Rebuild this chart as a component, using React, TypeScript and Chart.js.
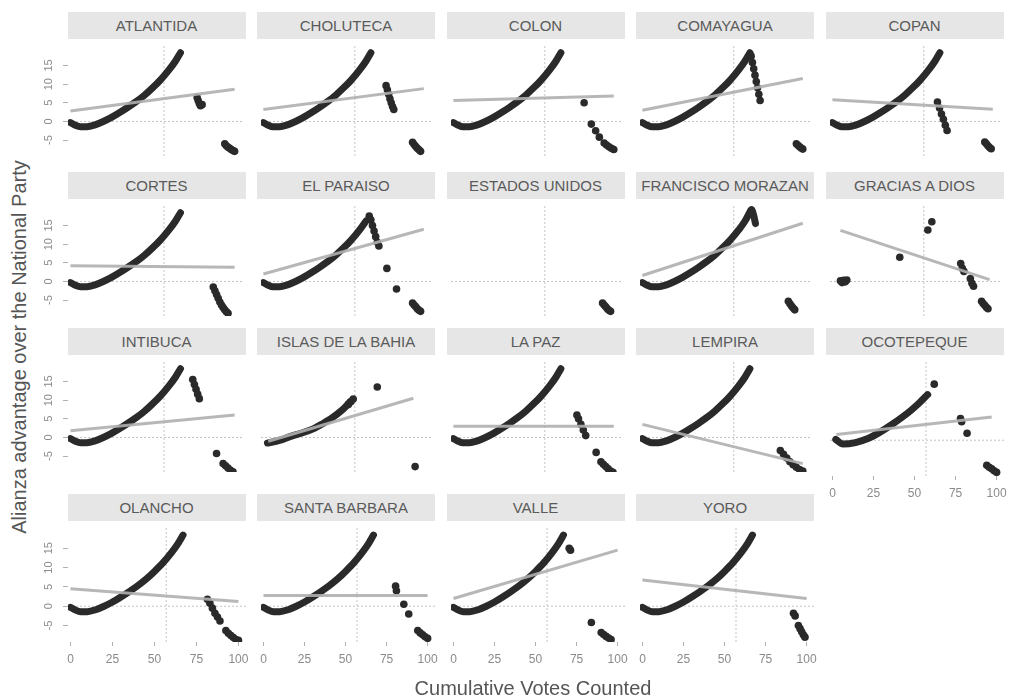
import React, { useEffect, useRef } from "react";
import { Chart, registerables } from "chart.js";
Chart.register(...registerables);

const FONT = "'Liberation Sans', Arial, sans-serif";
const DARK = "#2a2a2a";

const departments = [
  "ATLANTIDA", "CHOLUTECA", "COLON", "COMAYAGUA", "COPAN",
  "CORTES", "EL PARAISO", "ESTADOS UNIDOS", "FRANCISCO MORAZAN", "GRACIAS A DIOS",
  "INTIBUCA", "ISLAS DE LA BAHIA", "LA PAZ", "LEMPIRA", "OCOTEPEQUE",
  "OLANCHO", "SANTA BARBARA", "VALLE", "YORO",
];

const xTicks = [0, 25, 50, 75, 100];
const yTicks = [-5, 0, 5, 10, 15];
const X_MIN = -1.5, X_MAX = 104.5;
const Y_MIN = -9.25, Y_MAX = 20.75;
const refX = 57;
const refY = 0;

// common cumulative-count curve
const baseCurveX = [0, 3, 6, 10, 15, 20, 25, 30, 35, 40, 45, 50, 55, 60, 64, 67];
const baseCurveY = [-0.3, -1.0, -1.4, -1.4, -0.9, 0.0, 1.1, 2.4, 3.8, 5.3, 7.0, 9.0, 11.2, 13.8, 16.2, 18.4];
const shortCurveX = [0, 3, 6, 10, 15, 20, 25, 30, 35, 40, 45, 50, 55, 60, 64];
const shortCurveY = [-0.3, -1.0, -1.4, -1.4, -0.9, 0.0, 1.1, 2.4, 3.8, 5.3, 7.0, 9.0, 11.2, 13.8, 16.2];
const morazanCurveX = [0, 3, 6, 10, 15, 20, 25, 30, 35, 40, 45, 50, 55, 60, 64, 67, 68, 69.5, 70.5];
const morazanCurveY = [-0.3, -1.0, -1.4, -1.4, -0.9, 0.0, 1.1, 2.4, 3.8, 5.3, 7.0, 9.0, 11.2, 13.8, 16.2, 18.6, 19.3, 17.5, 15.5];
const islasCurveX = [2.5, 10, 17, 24, 31, 37, 43, 49, 53.5];
const islasCurveY = [-1.5, -0.8, 0.3, 1.2, 2.3, 3.7, 5.3, 7.3, 9.3];
const ocoteCurveX = [2, 6.5, 14, 22, 29, 36, 42, 48, 53, 58];
const ocoteCurveY = [0.2, -1.0, -0.6, 0.5, 2.1, 4.0, 5.8, 7.8, 9.7, 11.8];
const noCurve: number[] = [];

// late-count points per department
const atlantidaX = [77.2, 77.8, 78.5, 79.2, 80.2, 94, 95, 96, 97, 98, 99, 100];
const atlantidaY = [6.4, 5.6, 4.8, 4.2, 4.5, -6.0, -6.5, -6.9, -7.2, -7.5, -7.8, -8.0];
const cholutecaX = [76.5, 77.3, 78.1, 78.9, 79.7, 80.5, 81.3, 93, 94, 95, 96, 97, 98];
const cholutecaY = [9.6, 8.5, 7.3, 6.1, 5.0, 4.0, 3.2, -5.6, -6.2, -6.7, -7.2, -7.6, -8.0];
const colonX = [81.5, 86, 88.7, 91, 94, 95.5, 97, 98.5, 100];
const colonY = [5.0, -0.7, -2.5, -4.2, -5.8, -6.3, -6.8, -7.2, -7.5];
const comayaguaX = [67.8, 68.6, 69.4, 70.2, 71, 71.8, 72.6, 73.4, 96, 97, 98, 99, 100];
const comayaguaY = [17.5, 15.8, 14.1, 12.4, 10.7, 9.0, 7.3, 5.6, -6.0, -6.4, -6.8, -7.1, -7.4];
const copanX = [65.5, 66.8, 68, 69.2, 70.4, 71.5, 95, 96, 97, 98, 99];
const copanY = [5.2, 3.6, 2.0, 0.6, -1.0, -2.4, -5.5, -6.0, -6.5, -7.0, -7.3];
const cortesX = [87, 88, 89, 90, 91, 92, 93, 94, 95, 96];
const cortesY = [-1.5, -2.5, -3.5, -4.5, -5.5, -6.3, -7.0, -7.6, -8.1, -8.5];
const paraisoX = [66, 67, 68, 69, 70, 71, 72, 77, 83, 93, 94, 95, 96, 97, 98];
const paraisoY = [17.5, 16.5, 15.0, 13.5, 12.0, 10.5, 9.5, 3.5, -2.0, -5.8, -6.3, -6.8, -7.3, -7.7, -8.0];
const eeuuX = [93, 94, 95, 96, 97, 98];
const eeuuY = [-5.8, -6.3, -6.8, -7.3, -7.7, -8.0];
const morazanX = [91, 92, 93, 94, 95];
const morazanY = [-5.3, -6.0, -6.6, -7.1, -7.6];
const graciasX = [5, 6, 7, 8, 9, 42, 59.5, 62, 80, 81, 82, 86, 87, 88, 93, 94, 95, 96, 97];
const graciasY = [0.2, -0.3, 0.3, -0.1, 0.4, 6.5, 13.8, 16.0, 4.8, 3.5, 2.7, 0.8, -0.5, -1.3, -5.3, -5.9, -6.4, -6.9, -7.3];
const intibucaX = [74.5, 75.5, 76.5, 77.5, 78.5, 89, 93, 94.5, 96, 97.5, 99];
const intibucaY = [15.5, 14.2, 12.9, 11.6, 10.4, -4.3, -7.0, -7.6, -8.2, -8.8, -9.2];
const islasX = [53, 54.5, 56, 71, 94.6];
const islasY = [8.8, 9.6, 10.3, 13.5, -7.8];
const lapazX = [77, 78, 79.5, 81, 82.5, 89, 92, 93.5, 95, 96.5, 98, 99.5];
const lapazY = [6.0, 5.0, 3.5, 2.0, 0.5, -4.0, -6.5, -7.2, -7.8, -8.4, -9.0, -9.3];
const lempiraX = [86, 88, 90, 92, 94, 96, 98, 100];
const lempiraY = [-3.5, -4.5, -5.5, -6.5, -7.3, -8.0, -8.6, -9.0];
const ocoteX = [62, 78, 78.7, 82, 94, 95.5, 97, 98.5, 100];
const ocoteY = [14.5, 5.6, 4.8, 1.8, -6.5, -7.0, -7.4, -7.9, -8.3];
const olanchoX = [81.5, 83, 84.5, 86, 87.5, 89, 92.5, 94, 95.5, 97, 98.5, 100];
const olanchoY = [1.8, 0.8, -0.5, -1.8, -2.8, -3.8, -6.3, -7.0, -7.6, -8.1, -8.6, -8.8];
const barbaraX = [80.5, 81, 85.5, 88.5, 94, 95.5, 97, 98.5, 100];
const barbaraY = [5.2, 4.0, 0.5, -2.0, -6.3, -6.9, -7.4, -7.9, -8.3];
const valleX = [70.5, 71.3, 84, 90, 91.5, 93, 94.5, 96];
const valleY = [15.0, 14.5, -4.2, -6.8, -7.3, -7.8, -8.2, -8.6];
const yoroX = [92, 93, 95, 96, 97, 98, 99];
const yoroY = [-1.8, -2.5, -5.0, -5.8, -6.6, -7.4, -8.0];

// linear fit end points per department (null = none)
const fitX0 = [0, 0, 0, 0, 0, 0, 0, null, 0, 5, 0, 3, 0, 0, 2.4, 0, 0, 0, 0];
const fitX1 = [100, 100, 100, 100, 100, 100, 100, null, 100, 98, 100, 93.5, 100, 100, 97, 100, 100, 100, 100];
const fitY0 = [2.8, 3.2, 5.6, 3.0, 5.8, 4.2, 2.0, null, 1.6, 13.7, 1.8, -1.0, 3.0, 3.5, 1.5, 4.5, 2.8, 2.0, 6.8];
const fitY1 = [8.6, 8.8, 6.8, 11.5, 3.3, 3.8, 14.0, null, 15.6, 0.5, 6.0, 10.5, 3.0, -7.0, 6.0, 1.2, 2.8, 14.5, 2.0];

const curveXs = [baseCurveX, baseCurveX, baseCurveX, baseCurveX, baseCurveX, baseCurveX, shortCurveX, noCurve, morazanCurveX, noCurve,
  baseCurveX, islasCurveX, baseCurveX, baseCurveX, ocoteCurveX, baseCurveX, baseCurveX, baseCurveX, baseCurveX];
const curveYs = [baseCurveY, baseCurveY, baseCurveY, baseCurveY, baseCurveY, baseCurveY, shortCurveY, noCurve, morazanCurveY, noCurve,
  baseCurveY, islasCurveY, baseCurveY, baseCurveY, ocoteCurveY, baseCurveY, baseCurveY, baseCurveY, baseCurveY];
const pointXs = [atlantidaX, cholutecaX, colonX, comayaguaX, copanX, cortesX, paraisoX, eeuuX, morazanX, graciasX,
  intibucaX, islasX, lapazX, lempiraX, ocoteX, olanchoX, barbaraX, valleX, yoroX];
const pointYs = [atlantidaY, cholutecaY, colonY, comayaguaY, copanY, cortesY, paraisoY, eeuuY, morazanY, graciasY,
  intibucaY, islasY, lapazY, lempiraY, ocoteY, olanchoY, barbaraY, valleY, yoroY];

// layout
const PANEL_LEFT0 = 67.5;
const COL_PITCH = 189.5;
const PANEL_W = 178;
const PANEL_H = 120;
const ROW_TOPS = [40, 200, 356, 522];
const STRIP_H = 27;
const Y_AXIS_W = 34;
const X_AXIS_H = 30;

const yRotLabels = {
  id: "yRotLabels",
  afterDraw(chart: any) {
    const ys = chart.scales.y;
    const ctx = chart.ctx;
    ctx.save();
    ctx.fillStyle = "#8a8a8a";
    ctx.font = `11px ${FONT}`;
    ctx.textAlign = "center";
    ctx.textBaseline = "middle";
    for (const v of yTicks) {
      const py = ys.getPixelForValue(v);
      ctx.save();
      ctx.translate(chart.chartArea.left - 19, py);
      ctx.rotate(-Math.PI / 2);
      ctx.fillText(String(v), 0, 0);
      ctx.restore();
    }
    ctx.restore();
  },
};

function Panel({ i }: { i: number }) {
  const ref = useRef<HTMLCanvasElement>(null);
  const r = Math.floor(i / 5);
  const c = i % 5;
  const hasY = c === 0;
  const hasX = r === 3 || i === 14;
  const yw = hasY ? Y_AXIS_W : 0;
  const xh = hasX ? X_AXIS_H : 0;
  const padR = hasX ? 14 : 0;
  const left = PANEL_LEFT0 + COL_PITCH * c;
  const top = ROW_TOPS[r];
  const cw = Math.round(yw + PANEL_W + padR);
  const chh = PANEL_H + xh;

  useEffect(() => {
    const toPts = (xs: number[], ys: number[]) => xs.map((x, k) => ({ x, y: ys[k] }));
    const datasets: any[] = [];
    if (fitX0[i] !== null) {
      datasets.push({
        data: [{ x: fitX0[i], y: fitY0[i] }, { x: fitX1[i], y: fitY1[i] }],
        showLine: true, borderColor: "rgba(175,175,175,0.9)", borderWidth: 3,
        pointRadius: 0, order: 0,
      });
    }
    datasets.push({
      data: toPts(pointXs[i], pointYs[i]),
      backgroundColor: DARK, borderColor: DARK, borderWidth: 0, pointRadius: 3.8, order: 1,
    });
    if (curveXs[i].length) {
      datasets.push({
        data: toPts(curveXs[i], curveYs[i]),
        showLine: true, borderColor: DARK, borderWidth: 7, pointRadius: 0,
        cubicInterpolationMode: "monotone", borderCapStyle: "round", order: 2,
      });
    }
    datasets.push({
      data: [{ x: X_MIN, y: refY }, { x: X_MAX, y: refY }],
      showLine: true, borderColor: "#c4c4c4", borderWidth: 1, borderDash: [2, 2], pointRadius: 0, order: 3,
    });
    datasets.push({
      data: [{ x: refX, y: Y_MIN }, { x: refX, y: Y_MAX }],
      showLine: true, borderColor: "#c4c4c4", borderWidth: 1, borderDash: [2, 2], pointRadius: 0, order: 3,
    });

    const chart = new Chart(ref.current as HTMLCanvasElement, {
      type: "scatter",
      data: { datasets },
      plugins: hasY ? [yRotLabels] : [],
      options: {
        animation: false,
        responsive: false,
        maintainAspectRatio: false,
        events: [],
        layout: { padding: { left: 0, right: padR, top: 0, bottom: 0 } },
        plugins: { legend: { display: false }, tooltip: { enabled: false } },
        scales: {
          x: {
            type: "linear", min: X_MIN, max: X_MAX, display: hasX,
            afterBuildTicks: (s: any) => { s.ticks = xTicks.map((v) => ({ value: v })); },
            afterFit: (s: any) => { s.height = hasX ? X_AXIS_H : 0; s.paddingLeft = 0; s.paddingRight = 0; },
            grid: { display: true, drawOnChartArea: false, drawTicks: true, tickLength: 4, tickColor: "#b0b0b0" },
            border: { display: false },
            ticks: { color: "#8a8a8a", font: { size: 12, family: FONT }, padding: 6, maxRotation: 0, autoSkip: false },
          },
          y: {
            type: "linear", min: Y_MIN, max: Y_MAX, display: hasY,
            afterBuildTicks: (s: any) => { s.ticks = yTicks.map((v) => ({ value: v })); },
            afterFit: (s: any) => { s.width = hasY ? Y_AXIS_W : 0; s.paddingTop = 0; s.paddingBottom = 0; },
            grid: { display: true, drawOnChartArea: false, drawTicks: true, tickLength: 5, tickColor: "#b0b0b0" },
            border: { display: false },
            ticks: { display: false },
          },
        },
      } as any,
    });
    return () => chart.destroy();
  }, []);

  return (
    <>
      <div
        style={{
          position: "absolute", left, top: top - STRIP_H - 1, width: PANEL_W, height: STRIP_H,
          background: "#e6e6e6", color: "#5a5a5a", fontFamily: FONT, fontSize: 15,
          lineHeight: STRIP_H + "px", textAlign: "center", whiteSpace: "nowrap",
        }}
      >
        {departments[i]}
      </div>
      <canvas
        ref={ref}
        width={cw}
        height={chh}
        style={{ position: "absolute", left: left - yw, top, width: cw, height: chh, display: "block" }}
      />
    </>
  );
}

export default function App() {
  return (
    <div style={{ position: "absolute", left: 0, top: 0, width: 1011, height: 700, overflow: "hidden", background: "#fff", fontFamily: FONT }}>
      {departments.map((d, i) => <Panel key={d} i={i} />)}
      <div
        style={{
          position: "absolute", left: 19, top: 347, transform: "translate(-50%, -50%) rotate(-90deg)",
          whiteSpace: "nowrap", fontSize: 20, color: "#555", fontFamily: FONT,
        }}
      >
        Alianza advantage over the National Party
      </div>
      <div
        style={{
          position: "absolute", left: 533, top: 688, transform: "translate(-50%, -50%)",
          whiteSpace: "nowrap", fontSize: 20, color: "#555", fontFamily: FONT,
        }}
      >
        Cumulative Votes Counted
      </div>
    </div>
  );
}
